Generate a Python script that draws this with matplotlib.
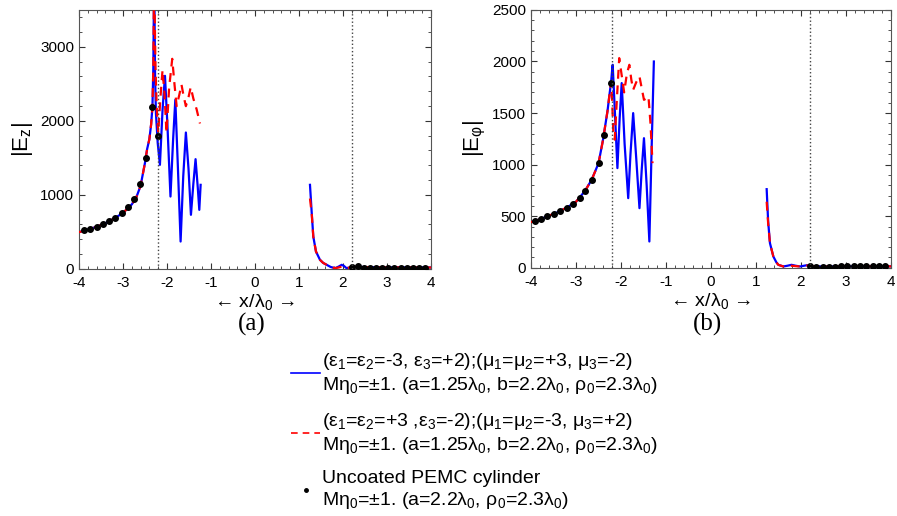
import matplotlib
matplotlib.use("Agg")
import matplotlib.pyplot as plt
from matplotlib.lines import Line2D
from matplotlib.ticker import MultipleLocator

plt.rcParams['font.family'] = ['Liberation Sans', 'DejaVu Sans']
plt.rcParams['mathtext.fontset'] = 'custom'
plt.rcParams['mathtext.rm'] = 'Liberation Sans'
plt.rcParams['mathtext.it'] = 'Liberation Sans'
plt.rcParams['mathtext.bf'] = 'Liberation Sans:bold'
plt.rcParams['axes.unicode_minus'] = False

# ---- panel (a) |Ez| ----
# common rising part (coated cases, both signs) up to the spike
a_rise_x = [-4.0, -3.8, -3.6, -3.4, -3.2, -3.0, -2.8, -2.7, -2.6, -2.5, -2.45, -2.4, -2.36, -2.33, -2.31, -2.295]
a_rise_y = [495, 530, 568, 617, 680, 755, 870, 960, 1120, 1430, 1620, 1750, 1950, 2185, 2700, 3700]

a_blue_x = [-2.285, -2.27, -2.25, -2.21, -2.16, -2.10, -2.045, -1.99, -1.92, -1.86, -1.81, -1.75,
            -1.69, -1.63, -1.57, -1.51, -1.455, -1.40, -1.35, -1.30, -1.265, -1.235]
a_blue_y = [3700, 2600, 2100, 1700, 1405, 2150, 2608, 1950, 977, 1750, 2284, 1350,
            369, 1250, 1842, 1350, 730, 1150, 1482, 1100, 797, 1135]

a_red_x = [-2.285, -2.26, -2.23, -2.198, -2.15, -2.10, -2.055, -2.01, -1.95, -1.88, -1.83, -1.78,
           -1.72, -1.67, -1.62, -1.57, -1.51, -1.46, -1.40, -1.325, -1.25]
a_red_y = [3700, 2700, 2150, 1838, 2300, 2689, 2350, 1838, 2450, 2838, 2500, 2198,
           2350, 2490, 2330, 2198, 2320, 2455, 2300, 2153, 1964]

a_out_x = [1.25, 1.29, 1.325, 1.386, 1.477, 1.55, 1.63, 1.72, 1.82, 1.90, 1.97, 2.02, 2.08, 2.15, 2.25, 2.5, 3.0, 3.5, 4.0]
a_out_blue = [1135, 752, 437, 234, 122, 80, 54, 25, 9, 30, 54, 40, 9, 18, 28, 24, 20, 20, 18]
a_out_red = [950, 740, 437, 234, 122, 80, 54, 25, 9, 18, 30, 25, 9, 18, 28, 24, 20, 20, 18]

a_dot_x = [-3.88, -3.74, -3.60, -3.46, -3.32, -3.17, -3.03, -2.89, -2.76, -2.62, -2.48, -2.33, -2.21,
           2.20, 2.33, 2.48, 2.61, 2.75, 2.89, 3.03, 3.17, 3.31, 3.45, 3.59, 3.73, 3.87]
a_dot_y = [523, 541, 568, 604, 644, 689, 748, 829, 950, 1149, 1495, 2185, 1797,
           28, 38, 18, 18, 18, 18, 18, 18, 18, 18, 18, 18, 18]

# ---- panel (b) |Ephi| ----
b_rise_x = [-4.0, -3.8, -3.6, -3.4, -3.2, -3.0, -2.8, -2.65, -2.5, -2.4, -2.3, -2.25, -2.22]
b_rise_y = [442, 470, 505, 540, 585, 640, 745, 855, 1013, 1240, 1520, 1700, 1800]

b_blue_x = [-2.20, -2.185, -2.13, -2.08, -2.03, -1.985, -1.92, -1.84, -1.79, -1.73, -1.66, -1.59,
            -1.54, -1.49, -1.43, -1.37, -1.32, -1.27]
b_blue_y = [1900, 1967, 1450, 966, 1450, 1790, 1200, 675, 1100, 1499, 1050, 578,
            950, 1256, 800, 255, 1150, 1999]

b_red_x = [-2.20, -2.17, -2.14, -2.09, -2.04, -1.98, -1.93, -1.87, -1.815, -1.77, -1.73, -1.66,
           -1.59, -1.54, -1.49, -1.44, -1.39, -1.345, -1.30]
b_red_y = [1650, 1300, 1242, 1650, 2032, 1850, 1700, 1880, 1967, 1820, 1725, 1800,
           1854, 1740, 1628, 1640, 1660, 1400, 1014]

b_out_x = [1.237, 1.27, 1.31, 1.385, 1.45, 1.496, 1.607, 1.70, 1.79, 1.88, 1.98, 2.13, 2.25, 2.5, 3.0, 3.5, 4.0]
b_out_blue = [762, 449, 239, 110, 55, 29, 13, 20, 29, 20, 13, 25, 15, 12, 14, 14, 14]
b_out_red = [640, 430, 239, 110, 55, 29, 13, 16, 20, 16, 13, 22, 15, 12, 14, 14, 14]

b_dot_x = [-3.91, -3.78, -3.64, -3.50, -3.36, -3.21, -3.06, -2.92, -2.80, -2.65, -2.50, -2.38, -2.23,
           2.20, 2.33, 2.48, 2.62, 2.76, 2.89, 3.03, 3.17, 3.31, 3.45, 3.59, 3.73, 3.87]
b_dot_y = [458, 474, 500, 523, 552, 581, 623, 674, 745, 855, 1013, 1290, 1790,
           22, 7, 7, 7, 7, 13, 16, 16, 16, 16, 16, 16, 16]

blue = '#0000ff'
red = '#ff0000'

fig = plt.figure(figsize=(8.97, 5.16), dpi=100)
ax1 = fig.add_axes([0.088, 0.479, 0.3925, 0.502])
ax2 = fig.add_axes([0.592, 0.481, 0.4013, 0.500])


def draw_panel(ax, rise_x, rise_y, bx, by, rx, ry, ox, oblue, ored, dx, dy):
    ax.plot(rise_x + bx, rise_y + by, color=blue, lw=1.6, zorder=2)
    ax.plot(ox, oblue, color=blue, lw=1.6, zorder=2)
    ax.plot(rise_x + rx, rise_y + ry, color=red, lw=1.6, ls=(0, (4, 3)), zorder=3)
    ax.plot(ox, ored, color=red, lw=1.6, ls=(0, (4, 3)), zorder=3)
    ax.plot(dx, dy, 'o', color='black', ms=4, zorder=4)
    for xv in (-2.2, 2.2):
        ax.axvline(xv, color='#444444', ls=':', lw=1, zorder=5)
    ax.set_xlim(-4, 4)
    ax.set_xticks(range(-4, 5))
    ax.xaxis.set_minor_locator(MultipleLocator(0.2))
    ax.tick_params(which='both', direction='in', top=True, right=True,
                   labelsize=11, color='#333333')
    ax.tick_params(which='major', length=4)
    ax.tick_params(which='minor', length=2)
    ax.tick_params(axis='x', pad=5)
    for s in ax.spines.values():
        s.set_color('#555555')
        s.set_linewidth(0.8)
    ax.set_xlabel('← x/λ$_0$ →', fontsize=14)
    ax.xaxis.set_label_coords(0.5, -0.09)


draw_panel(ax1, a_rise_x, a_rise_y, a_blue_x, a_blue_y, a_red_x, a_red_y,
           a_out_x, a_out_blue, a_out_red, a_dot_x, a_dot_y)
ax1.set_ylim(0, 3500)
ax1.set_yticks([0, 1000, 2000, 3000])
ax1.yaxis.set_minor_locator(MultipleLocator(200))
ax1.set_ylabel('|E$_\\mathrm{z}$|', fontsize=16)
ax1.yaxis.set_label_coords(-0.125, 0.5)

draw_panel(ax2, b_rise_x, b_rise_y, b_blue_x, b_blue_y, b_red_x, b_red_y,
           b_out_x, b_out_blue, b_out_red, b_dot_x, b_dot_y)
ax2.set_ylim(0, 2500)
ax2.set_yticks([0, 500, 1000, 1500, 2000, 2500])
ax2.yaxis.set_minor_locator(MultipleLocator(100))
ax2.set_ylabel('|E$_{φ}$|', fontsize=16)
ax2.yaxis.set_label_coords(-0.12, 0.5)

fig.text(0.281, 0.372, '(a)', ha='center', va='center', fontsize=18, family='Liberation Serif')
fig.text(0.789, 0.372, '(b)', ha='center', va='center', fontsize=18, family='Liberation Serif')

handles = [Line2D([], [], color=blue, lw=1.2),
           Line2D([], [], color=red, lw=1.2, ls=(0, (4, 3))),
           Line2D([], [], color='black', marker='o', ms=2.5, ls='none')]
labels = ['(ε$_1$=ε$_2$=-3, ε$_3$=+2);(μ$_1$=μ$_2$=+3, μ$_3$=-2)\n'
          'Mη$_0$=±1. (a=1.25λ$_0$, b=2.2λ$_0$, ρ$_0$=2.3λ$_0$)',
          '(ε$_1$=ε$_2$=+3 ,ε$_3$=-2);(μ$_1$=μ$_2$=-3, μ$_3$=+2)\n'
          'Mη$_0$=±1. (a=1.25λ$_0$, b=2.2λ$_0$, ρ$_0$=2.3λ$_0$)',
          'Uncoated PEMC cylinder\n'
          'Mη$_0$=±1. (a=2.2λ$_0$, ρ$_0$=2.3λ$_0$)']
fig.legend(handles, labels, loc='upper left', bbox_to_anchor=(0.3244, 0.3195),
           frameon=False, fontsize=14, handlelength=1.5, handletextpad=0.1,
           borderpad=0, labelspacing=0.75, borderaxespad=0)

fig.savefig('out.png', dpi=100)
